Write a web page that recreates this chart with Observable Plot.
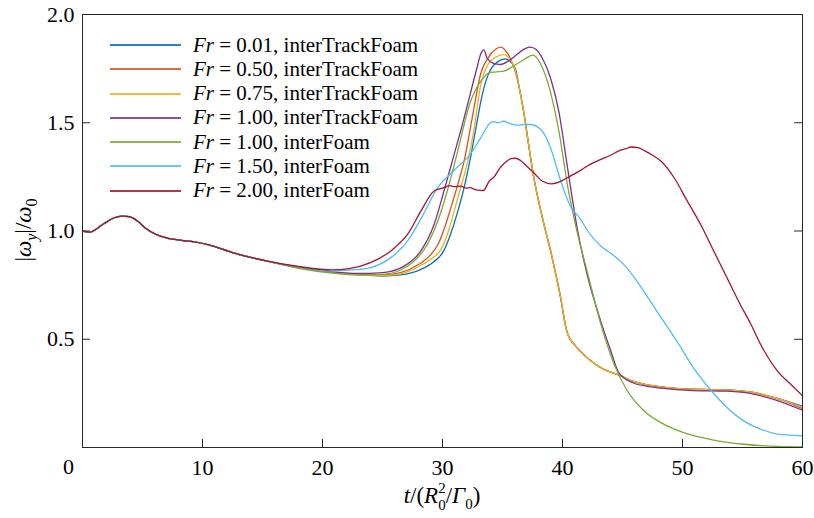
<!DOCTYPE html>
<html><head><meta charset="utf-8">
<script src="https://cdn.jsdelivr.net/npm/d3@7"></script>
<script src="https://cdn.jsdelivr.net/npm/@observablehq/plot@0.6"></script>
<style>
body{margin:0;background:#fff}
#wrap{position:relative;width:814px;height:518px;font-family:"Liberation Serif","Times New Roman",serif}
.legend{position:absolute;left:110px;top:33px}
.row{display:flex;align-items:center;height:24px;margin-bottom:0.3px;font-size:21px;white-space:nowrap;color:#000}
.sw{display:inline-block;width:71px;height:2px;margin-right:12px;opacity:0.85}
</style></head>
<body><div id="wrap"></div>
<script>
// Series labels and colours
const labels = ["0.01, interTrackFoam","0.50, interTrackFoam","0.75, interTrackFoam","1.00, interTrackFoam","1.00, interFoam","1.50, interFoam","2.00, interFoam"];
const colors = ["#0072BD","#D95319","#EDB120","#7E2F8E","#77AC30","#4DBEEE","#A2142F"];
const xTicks = [10,20,30,40,50,60];
const yTicks = [0.5,1.0,1.5,2.0];

// Common early part (all curves overlap)
const tEarly = [0,0.6,1.7,2.6,3.3,3.9,4.6,5.2,6.1,7.0,7.5,8.5,9.2,10.6,12.5,15.3];
const vEarly = [1.0,0.995,1.031,1.06,1.069,1.066,1.045,1.015,0.985,0.968,0.962,0.955,0.951,0.935,0.9,0.862];

// Common descent of the Fr = 0.01 / 0.50 / 0.75 interTrackFoam group
const tGroup = [36.4,36.8,37.2,37.6,38.0,38.5,39.0,39.4,39.85,40.3,40.5,41.0,42.05,43.4,44.7,45.9,47,48.2,50.9,53.7,55.9,57.6];
const vGroup = [1.66,1.54,1.39,1.25,1.14,1.02,0.91,0.81,0.69,0.55,0.515,0.475,0.415,0.362,0.335,0.305,0.29,0.28,0.269,0.266,0.254,0.231];

const tBlue = [18,20.8,23,25,26.5,28.2,29.2,30.1,30.7,31.2,31.8,32.3,32.8,33.2,33.6,34.0,34.6,35.25,35.7,36.1];
const vBlue = [0.832,0.81,0.798,0.792,0.797,0.823,0.855,0.908,0.99,1.077,1.2,1.33,1.48,1.6,1.69,1.745,1.782,1.795,1.78,1.745];
const tBlueEnd = [60], vBlueEnd = [0.19];

const tOrange = [18,20.8,23,25,26.5,28,29.0,29.6,30.2,30.7,31.3,31.8,32.5,33.2,33.8,34.4,34.85,35.3,35.9];
const vOrange = [0.832,0.81,0.8,0.797,0.808,0.845,0.89,0.935,1.02,1.108,1.22,1.323,1.53,1.73,1.8,1.838,1.849,1.83,1.765];
const tOrangeEnd = [60], vOrangeEnd = [0.18];

const tYellow = [18,20.8,23,25,26.5,28,29.0,29.8,30.5,31.2,32.1,32.6,33.2,33.8,34.5,35.1,35.6,36.0];
const vYellow = [0.832,0.81,0.799,0.794,0.802,0.835,0.87,0.908,1.0,1.138,1.323,1.46,1.68,1.77,1.805,1.815,1.795,1.755];
const tYellowEnd = [60], vYellowEnd = [0.185];

const tPurple = [18,20.8,23,25,26.8,28.2,29.3,30.1,30.9,31.6,32.3,32.9,33.2,33.45,33.7,34.2,34.8,35.5,36.2,36.8,37.3,37.8,38.3,39.0,39.7,40.4,41.2,42.05,43.0,44.0,44.7,45.9,47,48.2,50.9,53.7,55.9,57.6,60];
const vPurple = [0.833,0.812,0.804,0.808,0.838,0.908,1.03,1.18,1.34,1.48,1.63,1.76,1.82,1.837,1.80,1.775,1.769,1.785,1.815,1.84,1.849,1.838,1.8,1.707,1.55,1.30,1.02,0.80,0.616,0.45,0.345,0.298,0.283,0.274,0.263,0.26,0.247,0.222,0.172];

const tGreen = [18,20.8,23,25,26.5,27.5,28.4,29.5,30.4,31.2,32.3,33.4,33.9,34.5,35.1,35.9,36.8,37.5,38.2,38.9,39.7,40.5,41.2,42.05,43.2,44.3,45.4,46.8,48.2,50.1,52.3,55.1,57.9,60];
const vGreen = [0.828,0.806,0.797,0.8,0.82,0.855,0.908,1.03,1.185,1.354,1.592,1.707,1.731,1.735,1.738,1.762,1.792,1.812,1.769,1.661,1.461,1.185,1.0,0.815,0.569,0.385,0.262,0.169,0.115,0.069,0.038,0.015,0.005,0.003];

const tCyan = [18,20.8,22.5,24,25.7,27.1,28.4,29.6,30.9,32.3,33.2,34.0,34.3,34.6,35.1,35.6,36.2,36.8,37.3,38.2,39.0,39.8,40.7,41.5,42.1,43.2,44.3,45.1,46.2,47.3,48.4,49.6,50.9,52.3,53.7,55.1,56.5,57.9,59,60];
const vCyan = [0.834,0.815,0.82,0.831,0.877,0.954,1.077,1.2,1.277,1.354,1.431,1.5,1.505,1.5,1.507,1.497,1.489,1.492,1.492,1.469,1.385,1.24,1.11,1.055,1.0,0.931,0.885,0.846,0.769,0.677,0.585,0.485,0.369,0.269,0.185,0.123,0.085,0.062,0.057,0.054];

const tRed = [18,20.8,22.2,24,25.7,27.1,28.2,29.3,30.1,30.6,31.0,31.5,32.0,32.3,32.8,33.4,33.9,34.3,34.8,35.3,35.7,36.1,36.5,37.0,37.6,38.3,39.1,39.8,40.4,41.5,42.3,43.2,44.0,44.8,45.3,45.7,46.3,46.9,47.5,48.2,49.3,50.4,51.5,52.6,53.7,54.8,55.7,56.5,57.2,57.9,59.0,60];
const vRed = [0.836,0.82,0.826,0.854,0.908,0.985,1.092,1.185,1.2,1.21,1.205,1.207,1.198,1.2,1.19,1.187,1.231,1.25,1.292,1.32,1.334,1.336,1.326,1.30,1.269,1.231,1.218,1.228,1.246,1.28,1.308,1.331,1.35,1.372,1.38,1.388,1.385,1.369,1.35,1.323,1.246,1.138,1.031,0.908,0.785,0.662,0.569,0.477,0.41,0.354,0.293,0.239];

function build(label, parts) {
  const rows = [];
  for (const [ts, vs] of parts) ts.forEach((t, i) => rows.push({s: label, t, v: vs[i]}));
  return rows;
}
const data = [
  ...build(labels[0], [[tEarly, vEarly], [tBlue, vBlue], [tGroup, vGroup], [tBlueEnd, vBlueEnd]]),
  ...build(labels[1], [[tEarly, vEarly], [tOrange, vOrange], [tGroup, vGroup], [tOrangeEnd, vOrangeEnd]]),
  ...build(labels[2], [[tEarly, vEarly], [tYellow, vYellow], [tGroup, vGroup], [tYellowEnd, vYellowEnd]]),
  ...build(labels[3], [[tEarly, vEarly], [tPurple, vPurple]]),
  ...build(labels[4], [[tEarly, vEarly], [tGreen, vGreen]]),
  ...build(labels[5], [[tEarly, vEarly], [tCyan, vCyan]]),
  ...build(labels[6], [[tEarly, vEarly], [tRed, vRed]])
];

const W = 814, H = 518, mL = 82, mR = 12, mT = 14, mB = 71;
const tickPx = 8;
const xPerPx = 60 / (W - mL - mR), yPerPx = 2 / (H - mT - mB);

const plot = Plot.plot({
  width: W, height: H, marginLeft: mL, marginRight: mR, marginTop: mT, marginBottom: mB,
  x: {domain: [0, 60]},
  y: {domain: [0, 2]},
  color: {domain: labels, range: colors},
  style: {fontFamily: "Liberation Serif, Times New Roman, serif", fontSize: "22px", color: "#000", background: "#fff"},
  marks: [
    Plot.axisX(xTicks, {tickSize: 0, tickPadding: 12, label: null, fontSize: 22}),
    Plot.axisY(yTicks, {tickSize: 0, tickPadding: 8, label: null, fontSize: 22, tickFormat: d => d.toFixed(1)}),
    Plot.text([0], {x: 0, y: 0, text: () => "0", dx: -14, dy: 19, fontSize: 22}),
    Plot.ruleY(yTicks, {y: d => d, x1: 0, x2: tickPx * xPerPx, stroke: "#262626"}),
    Plot.ruleY(yTicks, {y: d => d, x1: 60 - tickPx * xPerPx, x2: 60, stroke: "#262626"}),
    Plot.ruleX(xTicks, {x: d => d, y1: 0, y2: tickPx * yPerPx, stroke: "#262626"}),
    Plot.line(data, {x: "t", y: "v", z: "s", stroke: "s", strokeWidth: 1.3, curve: "monotone-x"}),
    Plot.frame({stroke: "#262626"})
  ]
});

const wrap = document.getElementById("wrap");
wrap.appendChild(plot);
const svg = d3.select(plot);

// y label |ω_y|/ω_0
const yl = svg.append("text").attr("transform", "translate(31,230) rotate(-90)")
  .attr("text-anchor", "middle").attr("fill", "#000")
  .style("font-family", "Liberation Serif, serif").style("font-size", "23px");
yl.append("tspan").text("|");
yl.append("tspan").style("font-style", "italic").text("ω");
yl.append("tspan").style("font-style", "italic").style("font-size", "16px").attr("dy", 6).text("y");
yl.append("tspan").attr("dy", -6).text("|/");
yl.append("tspan").style("font-style", "italic").text("ω");
yl.append("tspan").style("font-size", "16px").attr("dy", 6).text("0");

// x label t/(R_0^2/Γ_0)
const xl = svg.append("text").attr("x", 442).attr("y", 503)
  .attr("text-anchor", "middle").attr("fill", "#000")
  .style("font-family", "Liberation Serif, serif").style("font-size", "23px");
xl.append("tspan").style("font-style", "italic").text("t");
xl.append("tspan").text("/(");
xl.append("tspan").style("font-style", "italic").text("R");
xl.append("tspan").style("font-size", "15px").attr("dy", -10).text("2");
xl.append("tspan").style("font-size", "15px").attr("dx", -7.5).attr("dy", 17).text("0");
xl.append("tspan").attr("dy", -7).text("/");
xl.append("tspan").style("font-style", "italic").text("Γ");
xl.append("tspan").style("font-size", "15px").attr("dy", 6).text("0");
xl.append("tspan").attr("dy", -6).text(")");

// legend
const leg = document.createElement("div");
leg.className = "legend";
labels.forEach((lab, i) => {
  const r = document.createElement("div");
  r.className = "row";
  r.innerHTML = `<span class="sw" style="background:${colors[i]}"></span><i>Fr</i>&nbsp;=&nbsp;${lab}`;
  leg.appendChild(r);
});
wrap.appendChild(leg);
</script>
</body></html>
